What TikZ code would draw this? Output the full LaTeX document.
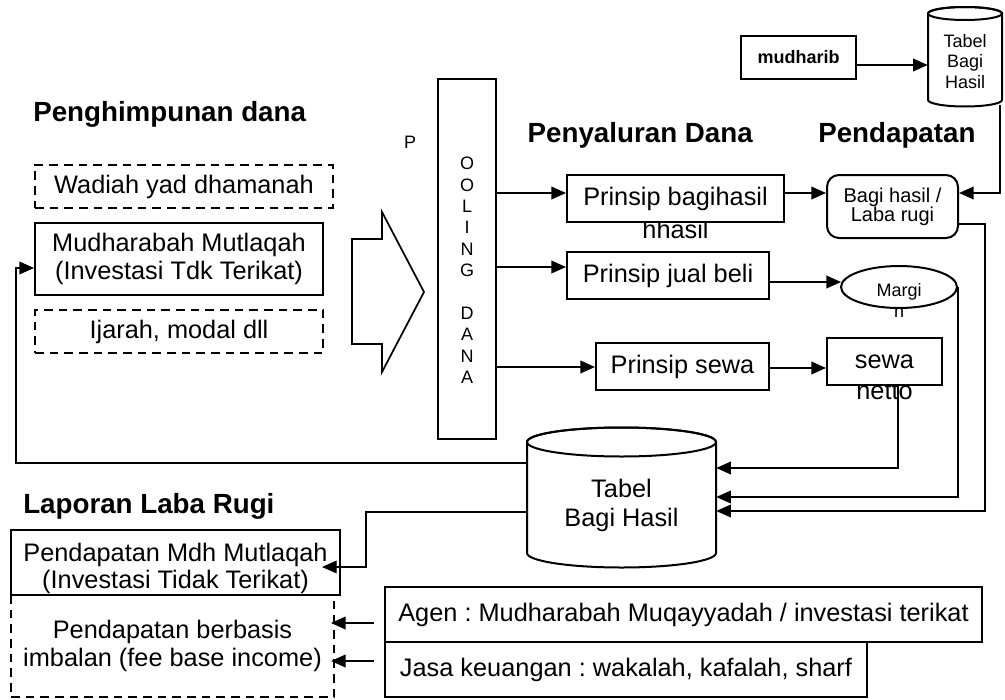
\documentclass[tikz,border=0pt]{standalone}
\usepackage{fontspec}
\setmainfont{Liberation Sans}
\usetikzlibrary{arrows.meta,shapes.geometric,calc}
\frenchspacing
\newcommand\mainfs{\fontsize{19}{20.5}\selectfont}
\newcommand\titlefs{\bfseries\fontsize{20.8}{24}\selectfont}
\newcommand\smallfs{\fontsize{13.5}{15.4}\selectfont}
\newcommand\midfs{\fontsize{15}{14.5}\selectfont}
\begin{document}
\begin{tikzpicture}[x=0.75pt,y=-0.75pt,
  box/.style={rectangle,draw,line width=1.5pt,fill=white,inner sep=0pt,align=center,font=\mainfs},
  dbox/.style={box,dash pattern=on 6.5pt off 4.5pt},
  txt/.style={inner sep=0pt,align=center,font=\mainfs},
  ttl/.style={inner sep=0pt,font=\titlefs},
  conn/.style={line width=1.3pt,-{Triangle[length=11pt,width=9.5pt]}},
  thinconn/.style={line width=1pt,-{Triangle[length=11pt,width=9.5pt]}},
  plain/.style={line width=1.3pt}]
\useasboundingbox (0,0) rectangle (1005,699);

% titles
\node[ttl,anchor=base west] (t1) at (33,121) {Penghimpunan dana};
\node[ttl,anchor=base east] (t2) at (753,142) {Penyaluran Dana};
\node[ttl,anchor=base west] (t3) at (818,142) {Pendapatan};
\node[ttl,anchor=base west] (t4) at (23,513) {Laporan Laba Rugi};

% left column
\node[dbox,minimum width=223.5pt,minimum height=32.25pt] (wadiah) at (184,186.5) {Wadiah yad dhamanah};
\node[box,minimum width=216pt,minimum height=54pt] (mudh) at (179,259) {Mudharabah Mutlaqah\\(Investasi Tdk Terikat)};
\node[dbox,minimum width=216pt,minimum height=32.25pt] (ijarah) at (179,331.5) {Ijarah, modal dll};

% block arrow
\draw[line width=1.3pt,fill=white] (352,239) -- (382,239) -- (382,212) -- (424,292) -- (382,372) -- (382,344) -- (352,344) -- cycle;

% pooling
\node[txt,font=\smallfs] (ptext) at (410,142) {P};
\node[box,minimum width=43.5pt,minimum height=270pt] (pool) at (467,259) {};
\node[txt,font=\fontsize{13.5}{16.05}\selectfont] (pooltext) at (467,270.5) {O\\O\\L\\I\\N\\G\\\mbox{}\\D\\A\\N\\A};

% overflow texts (behind boxes)
\node[txt] (pbh2) at (675.5,229) {hhasil};
\node[txt] (sewa2) at (884.5,391) {netto};
\node[txt,font=\smallfs] (margin2) at (899,313) {n};

% prinsip boxes
\node[box,minimum width=162.75pt,minimum height=35.25pt] (pbh) at (675.5,198.5) {Prinsip bagihasil};
\node[box,minimum width=151.5pt,minimum height=35.25pt] (pjb) at (668,275.5) {Prinsip jual beli};
\node[box,minimum width=129.75pt,minimum height=35.25pt] (psw) at (682.5,366.5) {Prinsip sewa};

% pendapatan column
\node[box,rounded corners=9pt,minimum width=98.25pt,minimum height=47.25pt,font=\midfs] (bagi) at (892.5,206.5) {Bagi hasil /\\Laba rugi};
\node[ellipse,draw,line width=1.5pt,fill=white,inner sep=0pt,minimum width=87pt,minimum height=31.5pt] (margin) at (899,287) {};
\node[txt,font=\smallfs] (margintext) at (899,292) {Margi};
\node[box,minimum width=86.25pt,minimum height=35.25pt] (sewa) at (884.5,361.5) {sewa};

% mudharib and small cylinder
\node[box,minimum width=86.25pt,minimum height=32.25pt,font=\bfseries\smallfs] (mudharib) at (798.5,57.5) {mudharib};
\draw[line width=1.5pt,fill=white] (928,13.5) -- (928,100) arc[start angle=180,end angle=360,x radius=27.75pt,y radius=4.875pt] -- (1002,13.5) arc[start angle=0,end angle=180,x radius=27.75pt,y radius=4.875pt] -- cycle;
\draw[line width=1.5pt] (965,13.5) ellipse[x radius=27.75pt,y radius=4.875pt];
\node[txt,font=\smallfs,minimum width=55.5pt] (scyl) at (965,61.5) {Tabel\\Bagi\\Hasil};

% big cylinder
\draw[line width=1.5pt,fill=white] (527,442) -- (527,553) arc[start angle=180,end angle=360,x radius=70.875pt,y radius=10.875pt] -- (716,442) arc[start angle=0,end angle=180,x radius=70.875pt,y radius=10.875pt] -- cycle;
\draw[line width=1.5pt] (621.5,442) ellipse[x radius=70.875pt,y radius=10.875pt];
\node[txt,font=\fontsize{19}{21.75}\selectfont,minimum width=141.75pt] (tbh) at (621.5,505.5) {Tabel\\Bagi Hasil};

% laporan laba rugi
\node[dbox,minimum width=242.25pt,minimum height=76.5pt] (fee) at (172.5,646) {Pendapatan berbasis\\imbalan (fee base income)};
\node[box,minimum width=246.75pt,minimum height=48.75pt] (pmdh) at (175.5,562.5) {};
\node[txt] (pmdhtext) at (175.5,568.5) {Pendapatan Mdh Mutlaqah\\(Investasi Tidak Terikat)};
\node[box,minimum width=447.75pt,minimum height=41.25pt] (agen) at (683.5,614.5) {Agen : Mudharabah Muqayyadah / investasi terikat};
\node[box,minimum width=361.5pt,minimum height=41.25pt] (jasa) at (626,669.5) {Jasa keuangan : wakalah, kafalah, sharf};

% connectors
\draw[conn] (pool.east |- 0,193) -- (pbh.west |- 0,193);
\draw[conn] (pool.east |- 0,267) -- (pjb.west |- 0,267);
\draw[conn] (pool.east |- 0,367) -- (psw.west |- 0,367);
\draw[conn] (pbh.east |- 0,193) -- (bagi.west |- 0,193);
\draw[conn] (pjb.east |- 0,282) -- ($(margin.west |- 0,282)+(1,0)$);
\draw[conn] (psw.east |- 0,368) -- (sewa.west |- 0,368);
\draw[conn] (mudharib.east |- 0,65) -- (scyl.west |- 0,65);
\draw[conn] ($(scyl.east |- 0,105)+(-2,0)$) |- (bagi.east |- 0,193);
\draw[conn] (bagi.east |- 0,224) -| (985,511) -- (tbh.east |- 0,511);
\draw[conn] (margin.east) |- (tbh.east |- 0,497);
\draw[conn] (sewa.south -| 898,0) |- (tbh.east |- 0,468);
\draw[thinconn] (tbh.west |- 0,463) -| (16,268) -- (mudh.west |- 0,268);
\draw[thinconn] (tbh.west |- 0,512) -| (366,567) -- ($(pmdh.east |- 0,567)+(-19,0)$);
\draw[conn] ($(agen.west |- 0,623)+(-10,0)$) -- ($(fee.east |- 0,623)+(-4,0)$);
\draw[conn] ($(jasa.west |- 0,661)+(-10,0)$) -- ($(fee.east |- 0,661)+(-4,0)$);
\end{tikzpicture}
\end{document}
